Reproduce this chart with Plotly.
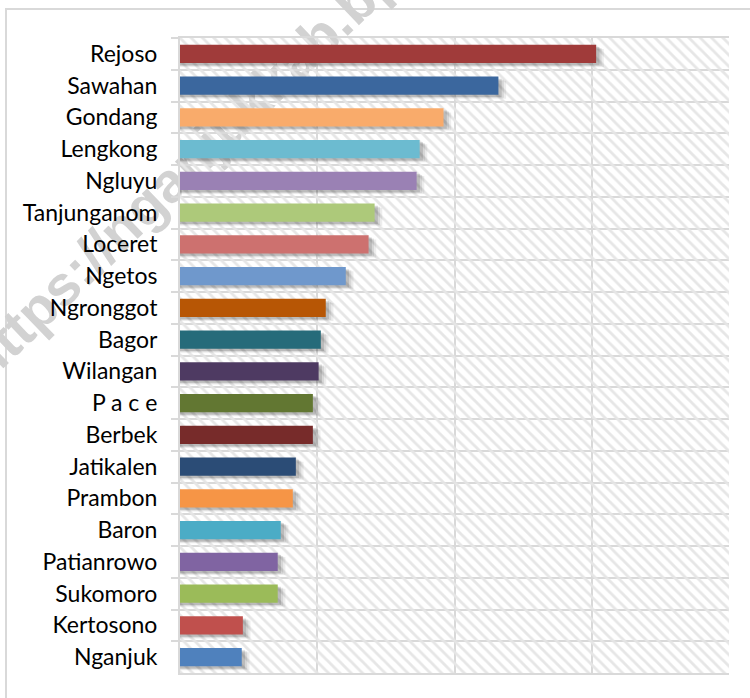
import plotly.graph_objects as go

# ---- data ----
districts = ["Rejoso", "Sawahan", "Gondang", "Lengkong", "Ngluyu", "Tanjunganom",
             "Loceret", "Ngetos", "Ngronggot", "Bagor", "Wilangan", "P a c e",
             "Berbek", "Jatikalen", "Prambon", "Baron", "Patianrowo", "Sukomoro",
             "Kertosono", "Nganjuk"]
values = [151.6, 116.0, 96.0, 87.3, 86.2, 70.9, 68.7, 60.4, 53.1, 51.3,
          50.5, 48.4, 48.4, 42.2, 41.1, 36.7, 35.6, 35.6, 22.9, 22.5]
bar_colors = ["#A03B3A", "#3B679E", "#F9AB6B", "#6CBBD0", "#9A81B4", "#ADC97A",
              "#CD716F", "#6F98CC", "#B75605", "#266B7A", "#4E3A62", "#627732",
              "#772B2A", "#2B4C76", "#F69546", "#4BACC6", "#8064A2", "#9BBB59",
              "#C0504D", "#4F81BD"]
x_max = 200
x_step = 50
watermark = "https://nganjukkab.bps.go.id"

GRID = "#d9d9d9"
BAR_W = 0.57
L, R, T, B = 180, 21, 38, 25
W, H = 750, 698
PW, PH = W - L - R, H - T - B

fig = go.Figure()

# hatched plot background
fig.add_trace(go.Bar(
    x=[x_max] * len(districts), y=districts, orientation="h", width=1,
    marker=dict(color="rgba(0,0,0,0)", line=dict(width=0),
                pattern=dict(shape="\\", fgcolor="#e6e6e6", size=8, solidity=0.35,
                             fillmode="replace")),
    hoverinfo="skip", showlegend=False))

# soft drop shadows
for d, shift, a in [(2.8, 0.13, 0.07), (2.0, 0.10, 0.09), (1.2, 0.07, 0.13)]:
    fig.add_trace(go.Bar(
        x=[v + d for v in values], y=districts, orientation="h",
        width=BAR_W, offset=-BAR_W / 2 + shift,
        marker=dict(color=f"rgba(0,0,0,{a})", line=dict(width=0)),
        hoverinfo="skip", showlegend=False))

# data bars
fig.add_trace(go.Bar(
    x=values, y=districts, orientation="h", width=BAR_W, offset=-BAR_W / 2,
    marker=dict(color=bar_colors, line=dict(width=0)),
    showlegend=False))

wx, wy = (244 - L) / PW, 1 + (T - 102) / PH

fig.update_layout(
    width=W, height=H,
    margin=dict(l=L, r=R, t=T, b=B, autoexpand=False),
    paper_bgcolor="white", plot_bgcolor="white",
    barmode="overlay",
    font=dict(family="Lato", size=23, color="#000000"),
    xaxis=dict(range=[0, x_max], dtick=x_step, showticklabels=False,
               showgrid=True, gridcolor=GRID, gridwidth=2, zeroline=False,
               showline=True, linecolor=GRID, linewidth=2, mirror=True, ticks="",
               automargin=False),
    yaxis=dict(type="category", categoryorder="array", categoryarray=districts,
               autorange="reversed", tickson="boundaries", showgrid=True,
               gridcolor=GRID, gridwidth=2, ticks="outside", ticklen=7,
               tickcolor=GRID, tickwidth=2, showline=True, linecolor=GRID,
               linewidth=2, ticklabelstandoff=16, automargin=False,
               tickfont=dict(family="Lato", size=23, color="#000000")),
    shapes=[dict(type="rect", xref="paper", yref="paper",
                 x0=(6 - L) / PW, x1=1.2, y0=-0.2, y1=1 + (T - 9) / PH,
                 line=dict(color=GRID, width=2), fillcolor="rgba(0,0,0,0)",
                 layer="below"),
            dict(type="rect", xref="paper", yref="paper",
                 x0=wx - 0.005, x1=wx + 0.005, y0=wy - 0.005, y1=wy + 0.005,
                 line=dict(width=0), fillcolor="rgba(0,0,0,0)", layer="below",
                 label=dict(text=watermark, textangle=-44,
                            textposition="middle center",
                            font=dict(family="Liberation Sans", size=56,
                                      color="#d2d2d2", weight="bold")))],
)

fig.write_html("out.html", config={"displayModeBar": False},
               post_script="document.body.style.margin='0';")
